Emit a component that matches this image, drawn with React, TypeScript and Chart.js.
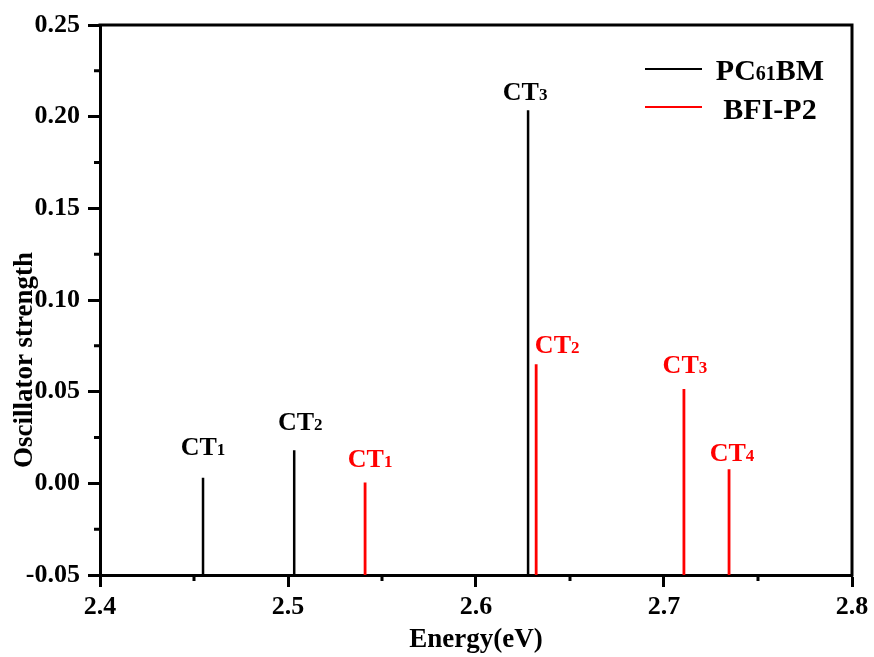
import React, { useEffect, useRef } from 'react';
import { Chart, registerables } from 'chart.js';

Chart.register(...registerables);

// ---- data ----
const pcEnergies = [2.4548, 2.5033, 2.6277];
const pcStrengths = [0.003, 0.018, 0.2035];
const pcLabelIdx = ['1', '2', '3'];

const bfiEnergies = [2.541, 2.632, 2.7106, 2.7346];
const bfiStrengths = [0.0005, 0.065, 0.0515, 0.0077];
const bfiLabelIdx = ['1', '2', '3', '4'];

const seriesNames = ['PC', 'BFI-P2'];
const xMinorTicks = [2.45, 2.55, 2.65, 2.75];
const yMinorTicks = [-0.025, 0.025, 0.075, 0.125, 0.175, 0.225];

const Y_MIN = -0.05;
const Y_MAX = 0.25;
const X_MIN = 2.4;
const X_MAX = 2.8;

// label pixel tweaks (style/layout, not data)
const pcLabelDx = [0, 6, -3];
const pcLabelGap = [23, 20, 10];
const bfiLabelDx = [5, 21, 1, 3];
const bfiLabelGap = [15, 11, 16, 8];

const FONT = "'Liberation Serif', 'Times New Roman', serif";

function sticks(es: number[], vs: number[]) {
  const pts: { x: number; y: number | null }[] = [];
  es.forEach((e, i) => {
    pts.push({ x: e, y: Y_MIN }, { x: e, y: vs[i] }, { x: e, y: null });
  });
  return pts;
}

function fmt(v: any, d: number) {
  const n = Number(v);
  return (Math.abs(n) < 1e-9 ? 0 : n).toFixed(d);
}

function drawSubText(
  ctx: CanvasRenderingContext2D,
  main: string,
  sub: string,
  tail: string,
  cx: number,
  baseline: number,
  mainSize: number,
  subSize: number,
  color: string
) {
  ctx.save();
  ctx.fillStyle = color;
  ctx.textBaseline = 'alphabetic';
  ctx.textAlign = 'left';
  ctx.font = `bold ${mainSize}px ${FONT}`;
  const w1 = ctx.measureText(main).width;
  const w3 = ctx.measureText(tail).width;
  ctx.font = `bold ${subSize}px ${FONT}`;
  const w2 = ctx.measureText(sub).width;
  const total = w1 + w2 + w3;
  let x = cx - total / 2;
  ctx.font = `bold ${mainSize}px ${FONT}`;
  ctx.fillText(main, x, baseline);
  x += w1;
  ctx.font = `bold ${subSize}px ${FONT}`;
  ctx.fillText(sub, x, baseline);
  x += w2;
  ctx.font = `bold ${mainSize}px ${FONT}`;
  ctx.fillText(tail, x, baseline);
  ctx.restore();
}

const decorPlugin = {
  id: 'decor',
  afterDraw(chart: any) {
    const { ctx, chartArea, scales } = chart;
    const xs = scales.x;
    const ys = scales.y;
    ctx.save();
    // top and right borders
    ctx.strokeStyle = '#000';
    ctx.lineWidth = 3;
    ctx.beginPath();
    ctx.moveTo(chartArea.left - 1.5, chartArea.top);
    ctx.lineTo(chartArea.right, chartArea.top);
    ctx.lineTo(chartArea.right, chartArea.bottom + 1.5);
    ctx.stroke();
    // minor ticks
    ctx.lineWidth = 3;
    ctx.beginPath();
    xMinorTicks.forEach((v) => {
      const px = xs.getPixelForValue(v);
      ctx.moveTo(px, chartArea.bottom);
      ctx.lineTo(px, chartArea.bottom + 6);
    });
    yMinorTicks.forEach((v) => {
      const py = ys.getPixelForValue(v);
      ctx.moveTo(chartArea.left, py);
      ctx.lineTo(chartArea.left - 6, py);
    });
    ctx.stroke();
    ctx.restore();

    // stick labels
    pcEnergies.forEach((e, i) => {
      const px = xs.getPixelForValue(e) + pcLabelDx[i];
      const py = ys.getPixelForValue(pcStrengths[i]) - pcLabelGap[i];
      drawSubText(ctx, 'CT', pcLabelIdx[i], '', px, py, 26, 17, '#000');
    });
    bfiEnergies.forEach((e, i) => {
      const px = xs.getPixelForValue(e) + bfiLabelDx[i];
      const py = ys.getPixelForValue(bfiStrengths[i]) - bfiLabelGap[i];
      drawSubText(ctx, 'CT', bfiLabelIdx[i], '', px, py, 26, 17, '#ff0000');
    });

    // axis titles
    ctx.save();
    ctx.fillStyle = '#000';
    ctx.font = `bold 27px ${FONT}`;
    ctx.textAlign = 'center';
    ctx.textBaseline = 'alphabetic';
    ctx.fillText('Energy(eV)', (chartArea.left + chartArea.right) / 2, 647);
    ctx.translate(32, 360);
    ctx.rotate(-Math.PI / 2);
    ctx.fillText('Oscillator strength', 0, 0);
    ctx.restore();

    // legend
    ctx.save();
    ctx.lineWidth = 1.8;
    ctx.strokeStyle = '#000';
    ctx.beginPath();
    ctx.moveTo(645, 69);
    ctx.lineTo(702, 69);
    ctx.stroke();
    ctx.strokeStyle = '#ff0000';
    ctx.beginPath();
    ctx.moveTo(645, 107);
    ctx.lineTo(702, 107);
    ctx.stroke();
    ctx.restore();
    drawSubText(ctx, seriesNames[0], '61', 'BM', 770, 80, 30, 20, '#000');
    drawSubText(ctx, seriesNames[1], '', '', 770, 119, 30, 20, '#000');
  },
};

export default function App() {
  const ref = useRef<HTMLCanvasElement>(null);
  useEffect(() => {
    if (!ref.current) return;
    const chart = new Chart(ref.current, {
      type: 'line',
      data: {
        datasets: [
          {
            label: 'PC61BM',
            data: sticks(pcEnergies, pcStrengths) as any,
            borderColor: '#000',
            borderWidth: 2.5,
            pointRadius: 0,
            spanGaps: false,
            tension: 0,
            borderCapStyle: 'butt',
          },
          {
            label: 'BFI-P2',
            data: sticks(bfiEnergies, bfiStrengths) as any,
            borderColor: '#ff0000',
            borderWidth: 2.8,
            pointRadius: 0,
            spanGaps: false,
            tension: 0,
            borderCapStyle: 'butt',
          },
        ],
      },
      options: {
        responsive: false,
        animation: false,
        layout: { padding: { top: 25, right: 22, left: 0, bottom: 0 } },
        plugins: { legend: { display: false }, tooltip: { enabled: false } },
        scales: {
          x: {
            type: 'linear',
            min: X_MIN,
            max: X_MAX,
            afterFit: (s: any) => {
              s.height = 82;
            },
            ticks: {
              stepSize: 0.1,
              padding: 5,
              color: '#000',
              font: { family: FONT, size: 26, weight: 'bold' },
              callback: (v: any) => fmt(v, 1),
              maxRotation: 0,
            },
            grid: {
              drawOnChartArea: false,
              tickLength: 12,
              tickWidth: 3,
              tickColor: '#000',
            },
            border: { display: true, color: '#000', width: 3 },
          },
          y: {
            type: 'linear',
            min: Y_MIN,
            max: Y_MAX,
            afterFit: (s: any) => {
              s.width = 100;
            },
            ticks: {
              stepSize: 0.05,
              padding: 8,
              color: '#000',
              font: { family: FONT, size: 26, weight: 'bold' },
              callback: (v: any) => fmt(v, 2),
            },
            grid: {
              drawOnChartArea: false,
              tickLength: 12,
              tickWidth: 3,
              tickColor: '#000',
            },
            border: { display: true, color: '#000', width: 3 },
          },
        },
      } as any,
      plugins: [decorPlugin],
    });
    return () => chart.destroy();
  }, []);
  return (
    <div style={{ position: 'absolute', left: 0, top: 0, width: 874, height: 657, background: '#fff' }}>
      <canvas ref={ref} width={874} height={657} style={{ display: 'block' }} />
    </div>
  );
}
